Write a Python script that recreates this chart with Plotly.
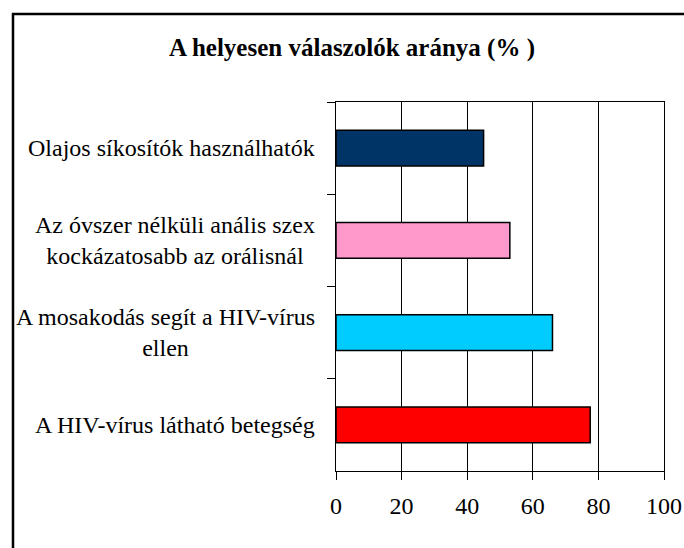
import plotly.graph_objects as go

categories = [
    "Olajos síkosítók használhatók",
    "Az óvszer nélküli anális szex<br>kockázatosabb az orálisnál",
    "A mosakodás segít a HIV-vírus<br>ellen",
    "A HIV-vírus látható betegség",
]
values = [45, 53, 66, 77.5]
colors = ["#003366", "#FF99CC", "#00CCFF", "#FF0000"]
x_ticks = [0, 20, 40, 60, 80, 100]
title_text = "A helyesen válaszolók aránya (% )"

W, H = 684, 548
L, R, T, B = 336, 20, 102, 77
pw, ph = W - L - R, H - T - B

def px2x(px):
    return (px - L) / pw

def py2y(py):
    return (H - B - py) / ph

FONT = "Liberation Serif"

fig = go.Figure()
fig.add_trace(go.Bar(
    x=values, y=categories, orientation="h",
    marker=dict(color=colors, line=dict(color="black", width=1.5)),
    width=0.39, hoverinfo="x+y",
))

annotations = []
for c in categories:
    annotations.append(dict(
        x=px2x(317), xref="paper", y=c, yref="y",
        text=c, showarrow=False, xanchor="right", yanchor="middle",
        align="center", font=dict(family=FONT, size=24, color="black"),
    ))
annotations.append(dict(
    x=px2x(352), xref="paper", y=py2y(48), yref="paper",
    text="<b>" + title_text + "</b>", showarrow=False,
    xanchor="center", yanchor="middle",
    font=dict(family=FONT, size=25, color="black"),
))

fig.update_layout(
    template="none",
    width=W, height=H,
    margin=dict(l=L, r=R, t=T, b=B, pad=0, autoexpand=False),
    paper_bgcolor="white", plot_bgcolor="white",
    showlegend=False,
    font=dict(family=FONT, size=24, color="black"),
    annotations=annotations,
    shapes=[dict(
        type="rect", xref="paper", yref="paper",
        x0=px2x(13), x1=px2x(720), y0=py2y(14), y1=py2y(600),
        line=dict(color="black", width=2.5), layer="above",
    )],
    xaxis=dict(
        range=[0, 100], tickvals=x_ticks, ticktext=[str(v) for v in x_ticks],
        showgrid=True, gridcolor="black", gridwidth=1,
        showline=True, linecolor="black", linewidth=1, mirror=True,
        ticks="outside", ticklen=8, tickcolor="black", tickwidth=1,
        ticklabelstandoff=5, zeroline=False, automargin=False,
        tickfont=dict(family=FONT, size=24, color="black"),
        fixedrange=True,
    ),
    yaxis=dict(
        type="category", categoryorder="array", categoryarray=categories,
        autorange="reversed", showticklabels=False, automargin=False,
        tickson="boundaries", ticks="outside", ticklen=8,
        tickcolor="black", tickwidth=1,
        showline=True, linecolor="black", linewidth=1, mirror=True,
        showgrid=False, zeroline=False, fixedrange=True,
    ),
)

fig.write_html(
    "out.html",
    config={"displayModeBar": False},
    post_script="document.body.style.margin='0';document.body.style.padding='0';",
)
